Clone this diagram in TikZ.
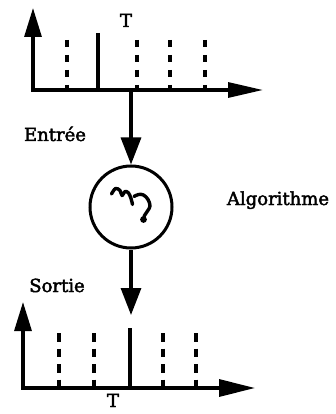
\documentclass[tikz,border=0pt]{standalone}
\usepackage{fontspec}
\setmainfont{DejaVu Serif}[FakeBold=2.4]
\usetikzlibrary{arrows.meta}
\begin{document}
\begin{tikzpicture}[x=1pt,y=-1pt,
  axes1/.style={line width=3.2pt, {Triangle[length=29pt,width=17pt]}-{Triangle[length=35pt,width=15pt]}},
  axes2/.style={line width=3.2pt, {Triangle[length=29pt,width=17pt]}-{Triangle[length=36pt,width=17pt]}},
  flow/.style={line width=3.2pt, -{Triangle[length=27pt,width=20pt]}},
  bar/.style={line width=4.2pt},
  dbar1/.style={line width=4.6pt, dash pattern=on 7.5pt off 7.5pt},
  dbar2/.style={line width=4.6pt, dash pattern=on 8.5pt off 7pt},
  lbl/.style={font=\fontsize{18pt}{20pt}\selectfont, inner sep=0pt, anchor=base},
  squig/.style={line width=3.4pt, line cap=round, line join=round},
]
\useasboundingbox (0,0) rectangle (336,414);

% top chart
\coordinate (o1) at (33,90);
\coordinate (yt1) at (33,8);
\coordinate (xt1) at (263,90);
\draw[axes1] (yt1) -- (o1) -- (xt1);
\coordinate (s1a) at (98,33); \coordinate (s1b) at (98,90);
\draw[bar] (s1a) -- (s1b);
\foreach \x [count=\i] in {67,137,170,205} {
  \coordinate (d1a\i) at (\x,40); \coordinate (d1b\i) at (\x,90);
  \draw[dbar1] (d1a\i) -- (d1b\i);
}
\node[lbl] (T1) at (126,27) {T};
\node[lbl] (entree) at (55,141) {Entrée};

% algorithm
\node[draw, circle, line width=3pt, minimum size=82pt, inner sep=0pt] (alg) at (131,207) {};
\coordinate (in1) at (131,90);
\draw[flow] (in1) -- (alg.north);
\node[lbl] (algo) at (278,205) {Algorithme};
\draw[squig] plot[smooth, tension=0.6] coordinates {(111.5,194) (115.5,188.5) (120,190.5) (122,195.5) (125,191.5) (128.5,193) (131,198.5) (132.5,204.5)};
\draw[squig] plot[smooth, tension=0.6] coordinates {(134,196.5) (138.5,194.5) (143.5,195) (148,199.5) (150,206) (147.5,211) (144.5,215.5) (143.5,219.5)};
\fill (143.5,219.5) circle (3.4pt);

\coordinate (out1) at (131,315);
\draw[flow] (alg.south) -- (out1);
\node[lbl] (sortie) at (57,292) {Sortie};

% bottom chart
\coordinate (o2) at (23,388);
\coordinate (yt2) at (23,302);
\coordinate (xt2) at (255,388);
\draw[axes2] (yt2) -- (o2) -- (xt2);
\coordinate (s2a) at (130,328); \coordinate (s2b) at (130,388);
\draw[bar] (s2a) -- (s2b);
\foreach \x [count=\i] in {59,94,163,196} {
  \coordinate (d2a\i) at (\x,333); \coordinate (d2b\i) at (\x,388);
  \draw[dbar2] (d2a\i) -- (d2b\i);
}
\node[lbl] (T2) at (113,407) {T};
\end{tikzpicture}
\end{document}
